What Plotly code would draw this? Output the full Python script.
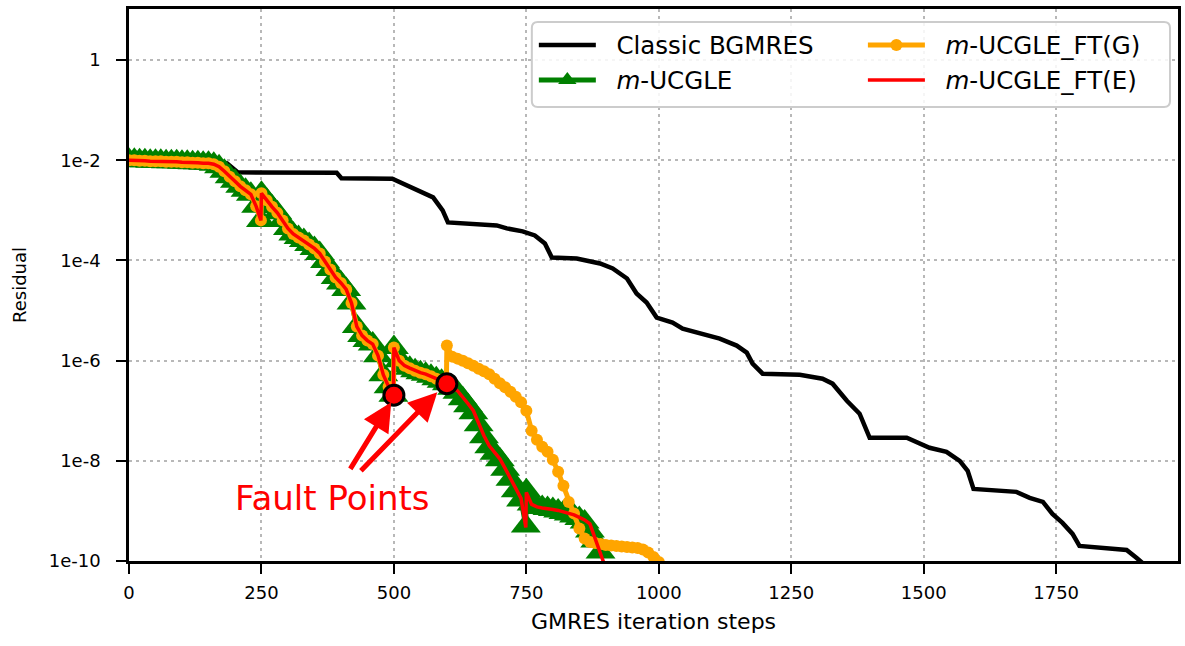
import plotly.graph_objects as go

# ---------------- data (log10 of residual) ----------------
bgmres_x = [0, 170, 185, 205, 392, 401, 497, 516, 548, 574, 592, 602, 694, 713, 743, 766, 785, 798,
            845, 889, 913, 940, 958, 977, 996, 1026, 1045, 1077, 1115, 1147, 1166, 1177, 1196, 1266,
            1309, 1328, 1355, 1379, 1398, 1468, 1492, 1511, 1543, 1568, 1583, 1594, 1675, 1700, 1725,
            1743, 1762, 1781, 1794, 1883, 1902, 1913]
bgmres_log = [-2.00, -2.03, -2.06, -2.24, -2.25, -2.36, -2.37, -2.46, -2.60, -2.74, -3.00, -3.24, -3.30,
              -3.36, -3.42, -3.50, -3.66, -3.94, -3.96, -4.06, -4.16, -4.36, -4.66, -4.84, -5.14, -5.24,
              -5.36, -5.46, -5.56, -5.70, -5.84, -6.06, -6.26, -6.28, -6.36, -6.46, -6.80, -7.06, -7.54,
              -7.54, -7.64, -7.74, -7.82, -8.00, -8.20, -8.56, -8.62, -8.74, -8.82, -9.06, -9.24, -9.46,
              -9.70, -9.78, -9.94, -10.04]

ucgle_x = [0, 10, 20, 30, 40, 50, 60, 70, 80, 90, 100, 110, 120, 130, 140, 150, 160, 170, 180, 190,
           200, 210, 220, 230, 240, 249, 250, 260, 270, 280, 290, 300, 310, 320, 330, 340, 350, 360,
           370, 380, 390, 400, 410, 420, 430, 440, 450, 460, 470, 480, 490, 499, 500, 510, 520, 530,
           540, 550, 560, 570, 580, 590, 600, 610, 620, 630, 640, 650, 660, 670, 680, 690, 700, 710,
           720, 730, 740, 749, 750, 760, 770, 780, 790, 800, 810, 820, 830, 840, 850, 860, 870, 880, 890]
ucgle_log = [-2.00, -2.00, -2.01, -2.01, -2.02, -2.02, -2.02, -2.03, -2.03, -2.03, -2.04, -2.04, -2.05,
             -2.05, -2.06, -2.06, -2.08, -2.13, -2.22, -2.33, -2.42, -2.52, -2.60, -2.68, -2.92, -3.20,
             -2.66, -2.80, -2.93, -3.05, -3.20, -3.36, -3.47, -3.54, -3.60, -3.68, -3.76, -3.86, -4.02,
             -4.18, -4.34, -4.45, -4.58, -4.85, -5.32, -5.50, -5.60, -5.67, -5.90, -6.28, -6.52, -6.69,
             -5.74, -6.00, -6.10, -6.15, -6.20, -6.24, -6.27, -6.31, -6.36, -6.41, -6.46, -6.55, -6.63,
             -6.76, -6.90, -7.04, -7.28, -7.52, -7.72, -7.85, -7.98, -8.17, -8.37, -8.60, -8.78, -9.30,
             -8.60, -8.86, -8.91, -8.93, -8.95, -8.97, -9.00, -9.03, -9.06, -9.10, -9.15, -9.22, -9.40,
             -9.60, -9.82]

# shared part of both fault-tolerant runs (before the second fault)
ft_common_x = [0, 10, 20, 30, 40, 50, 60, 70, 80, 90, 100, 110, 120, 130, 140, 150, 160, 170, 180, 190,
               200, 210, 220, 230, 240, 249, 250, 260, 270, 280, 290, 300, 310, 320, 330, 340, 350, 360,
               370, 380, 390, 400, 410, 420, 430, 440, 450, 460, 470, 480, 490, 499, 500, 510, 520, 530,
               540, 550, 560, 570, 580, 590, 599]
ft_common_log = [-2.00, -2.00, -2.01, -2.01, -2.02, -2.02, -2.02, -2.03, -2.03, -2.03, -2.04, -2.04,
                 -2.05, -2.05, -2.06, -2.06, -2.08, -2.13, -2.22, -2.33, -2.42, -2.52, -2.60, -2.68,
                 -2.92, -3.20, -2.66, -2.80, -2.93, -3.05, -3.20, -3.36, -3.47, -3.54, -3.60, -3.68,
                 -3.76, -3.86, -4.02, -4.18, -4.34, -4.45, -4.58, -4.85, -5.32, -5.50, -5.60, -5.67,
                 -5.90, -6.28, -6.52, -6.69, -5.74, -6.00, -6.10, -6.15, -6.20, -6.24, -6.27, -6.31,
                 -6.36, -6.41, -6.46]

ftg_tail_x = [600, 610, 620, 630, 640, 650, 660, 670, 680, 690, 700, 710, 720, 730, 740, 750, 760, 770,
              780, 790, 800, 810, 820, 830, 840, 850, 860, 870, 880, 890, 900, 910, 920, 930, 940, 950,
              960, 970, 980, 990, 1000]
ftg_tail_log = [-5.70, -5.92, -5.96, -6.00, -6.05, -6.10, -6.16, -6.21, -6.27, -6.36, -6.45, -6.53,
                -6.62, -6.72, -6.83, -7.00, -7.40, -7.58, -7.72, -7.82, -7.98, -8.22, -8.50, -8.82,
                -9.05, -9.35, -9.55, -9.62, -9.64, -9.66, -9.68, -9.69, -9.70, -9.71, -9.72, -9.73,
                -9.74, -9.77, -9.83, -9.92, -10.02]

fte_tail_x = [610, 620, 630, 640, 650, 660, 670, 680, 690, 700, 710, 720, 730, 740, 749, 750, 760, 770,
              780, 790, 800, 810, 820, 830, 840, 850, 860, 870, 880, 890, 900]
fte_tail_log = [-6.53, -6.60, -6.72, -6.86, -7.00, -7.25, -7.50, -7.70, -7.82, -7.96, -8.15, -8.35,
                -8.58, -8.75, -9.33, -8.63, -8.87, -8.92, -8.94, -8.95, -8.97, -8.99, -9.02, -9.04,
                -9.08, -9.13, -9.18, -9.26, -9.55, -9.88, -10.15]

fault_x = [500, 600]
fault_log = [-6.69, -6.46]

x_ticks = [0, 250, 500, 750, 1000, 1250, 1500, 1750]
y_tick_vals = [1e-10, 1e-8, 1e-6, 1e-4, 1e-2, 1]
y_tick_text = ["1e-10", "1e-8", "1e-6", "1e-4", "1e-2", "1"]

GAP = "\u00a0\u00a0"
names = [GAP + "Classic BGMRES", GAP + "<i>m</i>-UCGLE", GAP + "<i>m</i>-UCGLE_FT(G)",
         GAP + "<i>m</i>-UCGLE_FT(E)"]


def p10(vals):
    return [10 ** v for v in vals]


FONT = "DejaVu Sans"
fig = go.Figure()

fig.add_trace(go.Scatter(x=bgmres_x, y=p10(bgmres_log), mode="lines", name=names[0],
                         line=dict(color="black", width=4.5), legend="legend"))
fig.add_trace(go.Scatter(x=ucgle_x, y=p10(ucgle_log), mode="lines+markers", name=names[1],
                         line=dict(color="green", width=5),
                         marker=dict(symbol="triangle-up", size=26, color="green"),
                         legend="legend2"))
fig.add_trace(go.Scatter(x=ft_common_x + ftg_tail_x, y=p10(ft_common_log + ftg_tail_log),
                         mode="lines+markers", name=names[2],
                         line=dict(color="orange", width=5),
                         marker=dict(symbol="circle", size=12, color="orange"),
                         legend="legend3"))
fig.add_trace(go.Scatter(x=ft_common_x + fte_tail_x, y=p10(ft_common_log + fte_tail_log),
                         mode="lines", name=names[3],
                         line=dict(color="red", width=3.5), legend="legend4"))
fig.add_trace(go.Scatter(x=fault_x, y=p10(fault_log), mode="markers", showlegend=False,
                         marker=dict(symbol="circle", size=20, color="red",
                                     line=dict(color="black", width=3))))

# plot area in pixels: left 129, right 1181, top 9, bottom 561
W, H = 1185, 646
L, R, T, B = 129, 4, 9, 85
pw, ph = W - L - R, H - T - B


def px_x(p):
    return (p - L) / pw


def px_y(p):
    return (H - B - p) / ph


leg_common = dict(xanchor="left", yanchor="middle", bgcolor="rgba(0,0,0,0)", borderwidth=0,
                  font=dict(family=FONT, size=24.5, color="black"), itemwidth=57)
fig.update_layout(
    legend=dict(x=px_x(535), y=px_y(45), **leg_common),
    legend2=dict(x=px_x(535), y=px_y(80), **leg_common),
    legend3=dict(x=px_x(865), y=px_y(45), **leg_common),
    legend4=dict(x=px_x(865), y=px_y(80), **leg_common),
)

# legend frame
x0, x1, y0, y1 = px_x(533), px_x(1173), px_y(107), px_y(22)
rx, ry = 6 / pw, 6 / ph
path = (f"M{x0+rx},{y0} L{x1-rx},{y0} Q{x1},{y0} {x1},{y0+ry} L{x1},{y1-ry} Q{x1},{y1} {x1-rx},{y1} "
        f"L{x0+rx},{y1} Q{x0},{y1} {x0},{y1-ry} L{x0},{y0+ry} Q{x0},{y0} {x0+rx},{y0} Z")
fig.add_shape(type="path", path=path, xref="paper", yref="paper", layer="above",
              line=dict(color="#cccccc", width=2), fillcolor="rgba(255,255,255,0.85)")

# annotations: arrows and label
arrow_style = dict(xref="x", yref="y", axref="x", ayref="y", text="", showarrow=True,
                   arrowhead=2, arrowsize=1.15, arrowwidth=5, arrowcolor="red")
fig.add_annotation(x=495, y=-6.83, ax=416, ay=-8.19, **arrow_style)
fig.add_annotation(x=582, y=-6.63, ax=435, ay=-8.23, **arrow_style)
fig.add_annotation(x=384, y=-8.74, xref="x", yref="y", text="Fault Points", showarrow=False,
                   font=dict(family=FONT, size=34, color="red"))

grid_dash = "3px,4px"
fig.update_xaxes(range=[0, 1980], tickvals=x_ticks, ticks="outside", ticklen=10, tickwidth=2,
                 tickcolor="black", showline=True, linecolor="black", linewidth=2.5, mirror=True,
                 showgrid=True, gridcolor="#b8b8b8", gridwidth=2, griddash=grid_dash,
                 zeroline=False, tickfont=dict(family=FONT, size=18, color="black"),
                 ticklabelstandoff=4,
                 title=dict(text="GMRES iteration steps", font=dict(family=FONT, size=22, color="black"),
                            standoff=12))
fig.update_yaxes(type="log", range=[-10, 1.02], tickvals=y_tick_vals, ticktext=y_tick_text,
                 ticks="outside", ticklen=10, tickwidth=2, tickcolor="black", showline=True,
                 linecolor="black", linewidth=2.5, mirror=True, showgrid=True, gridcolor="#b8b8b8",
                 gridwidth=2, griddash=grid_dash, zeroline=False,
                 tickfont=dict(family=FONT, size=18, color="black"), ticklabelstandoff=12,
                 title=dict(text="Residual", font=dict(family=FONT, size=18, color="black"),
                            standoff=18))

fig.update_layout(width=W, height=H, autosize=False, margin=dict(l=L, r=R, t=T, b=B),
                  plot_bgcolor="white", paper_bgcolor="white",
                  font=dict(family=FONT, color="black"))

fig.write_html("out.html", config={"displayModeBar": False},
               post_script="document.body.style.margin='0px';")
